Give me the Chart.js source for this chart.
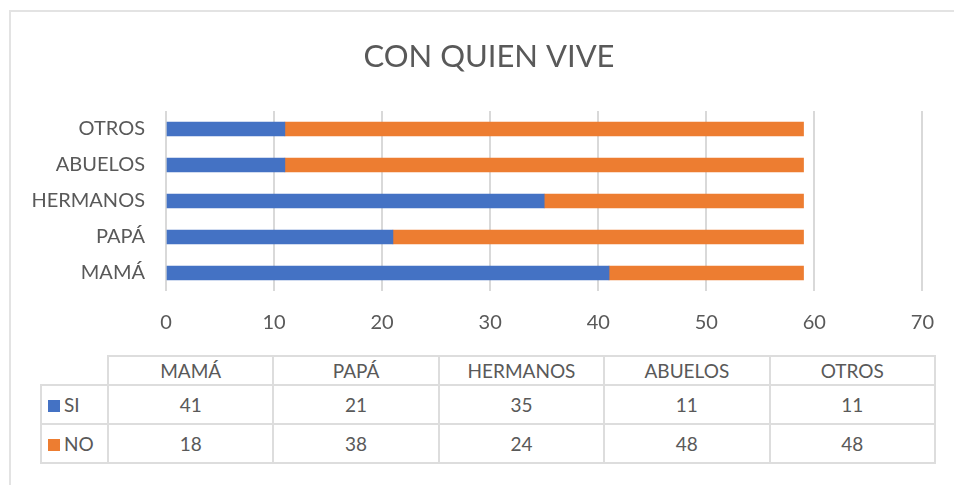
<!DOCTYPE html>
<html>
<head>
<meta charset="utf-8">
<script src="https://cdn.jsdelivr.net/npm/chart.js@4"></script>
<style>
  body { margin: 0; background: #fff; }
  #wrap { position: relative; width: 954px; height: 485px; overflow: hidden; }
  #frame { position: absolute; left: 9px; top: 10px; width: 1000px; height: 500px;
           border: 2px solid #E3E3E3; box-sizing: border-box; }
  #chart { position: absolute; left: 0; top: 0; }
  #dataTable { position: absolute; left: 40px; top: 355px; border-collapse: collapse;
               table-layout: fixed; width: 896px;
               font-family: Lato, sans-serif; font-size: 19px; color: #595959; }
  #dataTable td { border: 2px solid #DDDDDD; text-align: center; padding: 0; }
  #dataTable td.lbl { text-align: left; padding-left: 6px; }
  #dataTable td.blank { border: none; }
  .key { display: inline-block; width: 12px; height: 12px; margin-right: 4px; vertical-align: 0px; }
</style>
</head>
<body>
<div id="wrap">
  <div id="frame"></div>
  <canvas id="chart" width="954" height="345"></canvas>
  <table id="dataTable"></table>
</div>
<script>
// DATA
// -----------------------------------------------------------------------------
var chartTitle = "CON QUIEN VIVE";
var categories = ["MAMÁ", "PAPÁ", "HERMANOS", "ABUELOS", "OTROS"];
var siValues = [41, 21, 35, 11, 11];
var noValues = [18, 38, 24, 48, 48];
var xTicks = [0, 10, 20, 30, 40, 50, 60, 70];

var blue = "#4472C4";
var orange = "#ED7D31";
var textGray = "#595959";

// Title, centred on the whole chart frame rather than the plot
var titlePlugin = {
    id: "frameTitle",
    afterDraw: function(chart) {
        var c = chart.ctx;
        c.save();
        c.font = "31px Lato";
        c.fillStyle = textGray;
        c.textAlign = "center";
        c.textBaseline = "middle";
        c.fillText(chartTitle, 489, 57);
        c.restore();
    }
};

// Chart
// -----------------------------------------------------------------------------
var ctx = document.getElementById("chart");
var chart = new Chart(ctx, {
    type: "bar",
    data: {
        labels: categories,
        datasets: [
            { label: "SI", data: siValues, backgroundColor: blue, barThickness: 14 },
            { label: "NO", data: noValues, backgroundColor: orange, barThickness: 14 }
        ]
    },
    plugins: [titlePlugin],
    options: {
        indexAxis: "y",
        responsive: false,
        animation: false,
        devicePixelRatio: 1,
        layout: { padding: { left: 0, right: 28, top: 111, bottom: 0 } },
        plugins: {
            legend: { display: false },
            tooltip: { enabled: false },
            title: { display: false }
        },
        scales: {
            x: {
                stacked: true,
                min: 0,
                max: 70,
                afterBuildTicks: function(scale) {
                    scale.ticks = xTicks.map(function(v) { return { value: v }; });
                },
                afterFit: function(scale) { scale.height = 54; },
                grid: { color: "#D9D9D9", lineWidth: 2, drawTicks: false },
                border: { display: false },
                ticks: { color: textGray, padding: 20, font: { family: "Lato", size: 20 } }
            },
            y: {
                stacked: true,
                reverse: true,
                afterFit: function(scale) { scale.width = 166; },
                grid: { display: false },
                border: { display: false },
                ticks: { color: textGray, padding: 13, font: { family: "Lato", size: 20 } }
            }
        }
    }
});

// Data table
// -----------------------------------------------------------------------------
var table = document.getElementById("dataTable");
var head = table.insertRow();
var blank = head.insertCell();
blank.className = "blank";
blank.style.width = "66px";
blank.style.height = "28px";
categories.forEach(function(c) {
    var td = head.insertCell();
    td.textContent = c;
});
[["SI", siValues, blue], ["NO", noValues, orange]].forEach(function(s) {
    var row = table.insertRow();
    var lbl = row.insertCell();
    lbl.className = "lbl";
    lbl.style.height = "37px";
    lbl.innerHTML = '<span class="key" style="background:' + s[2] + '"></span>' + s[0];
    s[1].forEach(function(v) {
        var td = row.insertCell();
        td.textContent = v;
    });
});
</script>
</body>
</html>
